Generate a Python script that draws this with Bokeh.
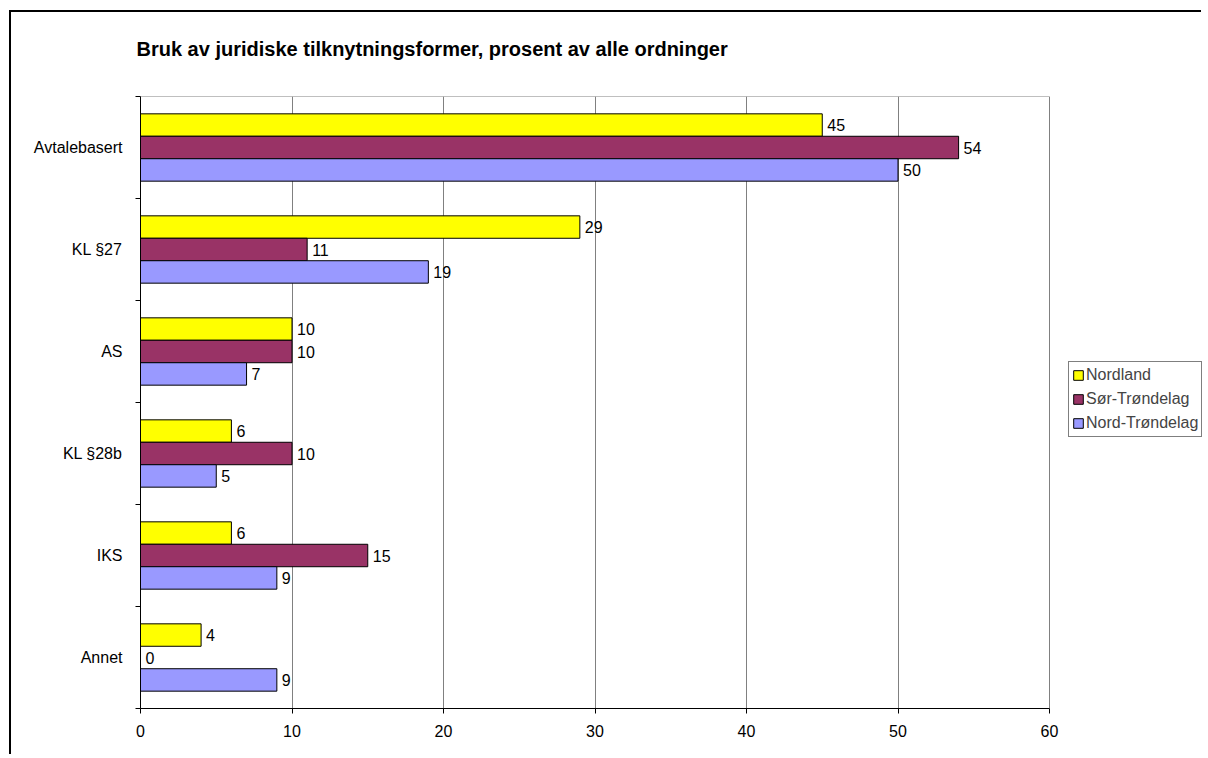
import numpy as np
from bokeh.plotting import figure
from bokeh.models import (ColumnDataSource, FixedTicker, Legend, LegendItem,
                          Range1d, Title)
from bokeh.core.properties import value
from bokeh.embed import file_html
from bokeh.resources import INLINE

# ---- data ----
title_text = "Bruk av juridiske tilknytningsformer, prosent av alle ordninger"
categories = ["Avtalebasert", "KL §27", "AS", "KL §28b", "IKS", "Annet"]
series_names = ["Nordland", "Sør-Trøndelag", "Nord-Trøndelag"]
nordland = [45, 29, 10, 6, 6, 4]
sor_trondelag = [54, 11, 10, 10, 15, 0]
nord_trondelag = [50, 19, 7, 5, 9, 9]
x_ticks = [0, 10, 20, 30, 40, 50, 60]

series_values = [nordland, sor_trondelag, nord_trondelag]
colors = ["#FFFF00", "#993366", "#9999FF"]
FONT = "Liberation Sans"

n = len(categories)
centers = [n - i - 0.5 for i in range(n)]
offsets = [0.22, 0.0, -0.22]
bar_h = 0.22

W, H = 1192, 744
LEFT, TOP, BOTTOM = 129, 84, 48
AXIS_PX = 909                      # pixel length of the 0..60 value axis
x_max = x_ticks[-1]
x_end = x_max * (W - LEFT) / AXIS_PX   # frame extends right to hold the legend

p = figure(width=W, height=H, output_backend="svg", toolbar_location=None,
           x_range=Range1d(0, x_end), y_range=Range1d(0, n),
           min_border_left=LEFT, min_border_right=0,
           min_border_top=TOP, min_border_bottom=BOTTOM)
p.styles = {"position": "relative", "left": "11px", "top": "12px",
            "box-shadow": "-2px -2px 0px 0px black"}
p.background_fill_color = "white"
p.border_fill_color = "white"
p.outline_line_color = None

# title
p.title.text = title_text
p.title.text_font = FONT
p.title.text_font_size = "20px"
p.title.text_font_style = "bold"
p.title.text_color = "black"
p.title.align = "left"
p.title.offset = -4
p.title.standoff = 10

# blank spacer between title and plot area
spacer = Title(text=" ", text_font=FONT, text_font_size="14px", standoff=14)
p.add_layout(spacer, "above")

# x axis
p.xaxis.ticker = FixedTicker(ticks=x_ticks)
p.xaxis.bounds = (0, x_max)
p.xaxis.major_label_text_font = FONT
p.xaxis.major_label_text_font_size = "16px"
p.xaxis.major_label_text_color = "black"
p.xaxis.axis_line_color = "black"
p.xaxis.major_tick_line_color = "black"
p.xaxis.major_tick_out = 5
p.xaxis.major_tick_in = 0
p.xaxis.minor_tick_line_color = None
p.xaxis.major_label_standoff = 11

# y axis
p.yaxis.ticker = FixedTicker(ticks=centers, minor_ticks=list(range(n + 1)))
p.yaxis.major_label_overrides = {c: cat for c, cat in zip(centers, categories)}
p.yaxis.major_label_text_font = FONT
p.yaxis.major_label_text_font_size = "16px"
p.yaxis.major_label_text_color = "black"
p.yaxis.axis_line_color = "black"
p.yaxis.major_tick_out = 0
p.yaxis.major_tick_in = 0
p.yaxis.minor_tick_out = 5
p.yaxis.minor_tick_in = 0
p.yaxis.minor_tick_line_color = "black"
p.yaxis.major_label_standoff = 13

p.xgrid.grid_line_color = "#808080"
p.ygrid.grid_line_color = None

# plot-area top border (gray), spanning the value axis only
p.segment(x0=[0], y0=[n], x1=[x_max], y1=[n], line_color="#808080", line_width=1)

items = []
for name, vals, col, off in zip(series_names, series_values, colors, offsets):
    ys = [c + off for c in centers]
    src = ColumnDataSource(dict(y=ys, right=vals, label=[str(v) for v in vals]))
    r = p.hbar(y="y", left=0, right="right", height=bar_h, source=src,
               fill_color=col, line_color="black", line_width=1)
    p.text(x="right", y="y", text="label", source=src, x_offset=5,
           text_baseline="middle", text_align="left",
           text_font=value(FONT), text_font_size="16px", text_color="black")
    items.append(LegendItem(label=name, renderers=[r]))

legend = Legend(items=items, location=(928, 271))
legend.label_text_font = FONT
legend.label_text_font_size = "16px"
legend.label_height = 20
legend.glyph_width = 12
legend.glyph_height = 12
legend.label_standoff = 2
legend.padding = 3
legend.spacing = 4
legend.margin = 0
legend.border_line_color = "black"
legend.border_line_width = 1
legend.background_fill_color = "white"
legend.background_fill_alpha = 1
p.add_layout(legend)

open("out.html", "w").write(file_html(p, INLINE))
